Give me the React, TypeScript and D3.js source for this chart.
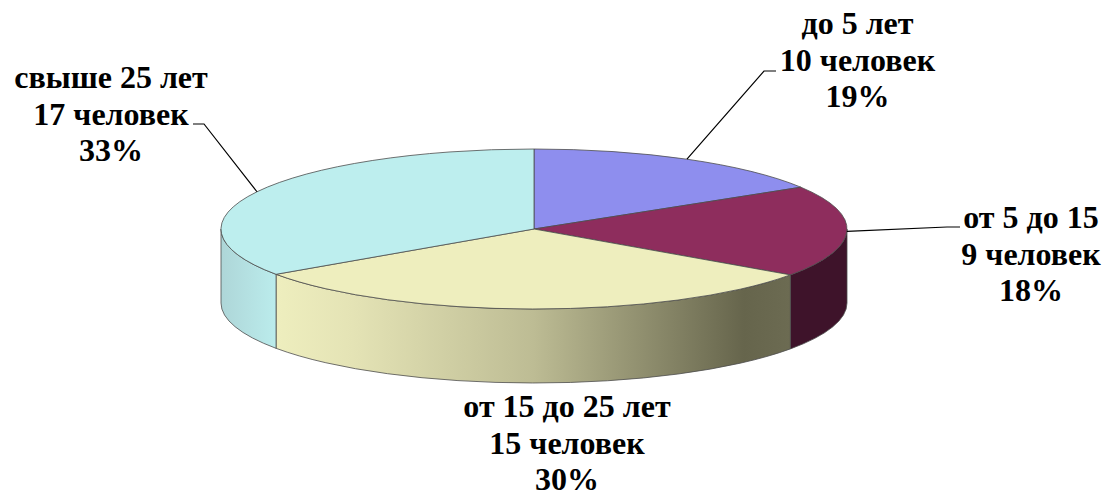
import React from 'react';
import * as d3 from 'd3';

const categories = ['до 5 лет', 'от 5 до 15', 'от 15 до 25 лет', 'свыше 25 лет'];
const people = [10, 9, 15, 17];
const percents = [19, 18, 30, 33];
const colours = ['#8e8eee', '#8e2d5d', '#eeeebe', '#bdeeee'];

// perspective of the 3D view moves the slice edges, degrees from the top
const drawnEdges = [0, 58.5, 125, 235.5, 360];

const width = 1106;
const height = 493;
const cx = 534;
const cy = 229;
const rx = 313;
const ry = 80;
const depth = 74;

// label centre x, first baseline, then leader elbow and end (null = no leader)
const labelPos = [
  { x: 857.5, y: 34, elbow: [764, 71], end: [776, 71] },
  { x: 1031, y: 228, elbow: [947, 227], end: [960, 227] },
  { x: 567, y: 417, elbow: null, end: null },
  { x: 111, y: 88, elbow: [204, 124], end: [193, 124] },
];

const pieData = d3.pie<number>().sort(null)(people);
const trueEdges = [0, ...pieData.map(d => d.endAngle)];
const warp = d3.scaleLinear()
  .domain(trueEdges)
  .range(drawnEdges.map(d => (d * Math.PI) / 180));

const slices = pieData.map((d, i) => ({
  startAngle: warp(d.startAngle),
  endAngle: warp(d.endAngle),
  padAngle: 0,
  colour: colours[i],
  index: i,
}));

const arc = d3.arc<{ startAngle: number; endAngle: number; padAngle: number }>()
  .innerRadius(0)
  .outerRadius(rx);

const rim = (a: number): [number, number] => [cx + rx * Math.sin(a), cy - ry * Math.cos(a)];

// side wall of a slice, only the front half of the pie is visible
const wallPath = (a0: number, a1: number) => {
  const s = Math.max(a0, Math.PI / 2);
  const e = Math.min(a1, (3 * Math.PI) / 2);
  if (e <= s) return null;
  const [x0, y0] = rim(s);
  const [x1, y1] = rim(e);
  return `M${x0},${y0}A${rx},${ry} 0 0 1 ${x1},${y1}L${x1},${y1 + depth}A${rx},${ry} 0 0 0 ${x0},${y0 + depth}Z`;
};

const wallFill = ['none', '#3e132a', 'url(#wallYellow)', 'url(#wallCyan)'];
const edge = '#4d4d4d';

const App: React.FC = () => {
  const yellowLeft = rim(slices[2].endAngle)[0];
  const yellowRight = rim(slices[2].startAngle)[0];
  const cyanRight = rim(slices[3].startAngle)[0];

  return (
    <svg
      width={width}
      height={height}
      style={{ position: 'absolute', left: 0, top: 0, display: 'block', background: '#fff' }}
    >
      <defs>
        <linearGradient id="wallYellow" gradientUnits="userSpaceOnUse" x1={yellowLeft} x2={yellowRight} y1={0} y2={0}>
          <stop offset="0" stopColor="#eeeebe" />
          <stop offset="0.15" stopColor="#e4e3b5" />
          <stop offset="0.5" stopColor="#bdbc94" />
          <stop offset="0.91" stopColor="#66654c" />
          <stop offset="1" stopColor="#6c6b52" />
        </linearGradient>
        <linearGradient id="wallCyan" gradientUnits="userSpaceOnUse" x1={cx - rx} x2={cyanRight} y1={0} y2={0}>
          <stop offset="0" stopColor="#aed6d8" />
          <stop offset="1" stopColor="#bbecec" />
        </linearGradient>
      </defs>

      {slices.map(s => {
        const d = wallPath(s.startAngle, s.endAngle);
        return d ? <path key={s.index} d={d} fill={wallFill[s.index]} stroke={edge} strokeWidth={0.8} /> : null;
      })}

      <g transform={`translate(${cx},${cy}) scale(1,${ry / rx})`}>
        {slices.map(s => (
          <path
            key={s.index}
            d={arc(s) ?? ''}
            fill={s.colour}
            stroke={edge}
            strokeWidth={0.8}
            vectorEffect="non-scaling-stroke"
          />
        ))}
      </g>

      {slices.map(s => {
        const pos = labelPos[s.index];
        if (!pos.elbow || !pos.end) return null;
        const start = rim((s.startAngle + s.endAngle) / 2);
        return (
          <polyline
            key={s.index}
            points={[start, pos.elbow, pos.end].map(p => p.join(',')).join(' ')}
            fill="none"
            stroke="#000"
            strokeWidth={1.2}
          />
        );
      })}

      <g fontFamily="'Liberation Serif'" fontWeight="bold" fontSize={32} textAnchor="middle" fill="#000">
        {categories.map((c, i) => (
          <text key={c} x={labelPos[i].x} y={labelPos[i].y}>
            <tspan x={labelPos[i].x}>{c}</tspan>
            <tspan x={labelPos[i].x} dy={36.7}>{`${people[i]} человек`}</tspan>
            <tspan x={labelPos[i].x} dy={36.7}>{`${percents[i]}%`}</tspan>
          </text>
        ))}
      </g>
    </svg>
  );
};

export default App;
